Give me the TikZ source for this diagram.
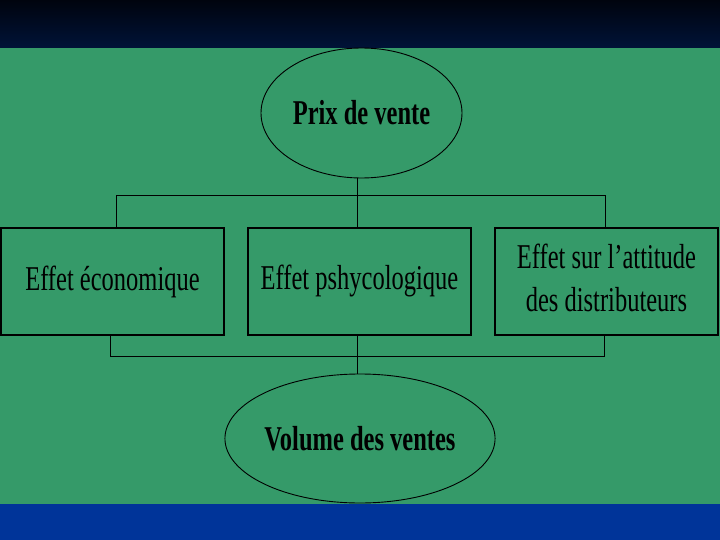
\documentclass[tikz,border=0pt]{standalone}
\usepackage{fontspec}
\setmainfont{Liberation Serif}
\usetikzlibrary{shapes.geometric}

\definecolor{fond}{RGB}{53,154,105}
\definecolor{nuitA}{RGB}{0,4,14}
\definecolor{nuitB}{RGB}{0,19,56}
\definecolor{bleubas}{RGB}{0,52,153}

\newcommand{\haut}[1]{\scalebox{1}[1.42]{#1}}

\tikzset{
	bulle/.style={draw, ellipse, line width=0.9pt, inner sep=0pt, font=\fontsize{24.5}{30}\selectfont\bfseries},
	boite/.style={draw, rectangle, line width=1.5pt, inner sep=0pt, minimum width=223pt, minimum height=107pt, font=\fontsize{24.5}{30}\selectfont},
	lien/.style={line width=0.9pt}
}

\begin{document}
\begin{tikzpicture}[x=1pt, y=-1pt]
	
	% background
	\useasboundingbox (0,0) rectangle (720,540);
	\fill[fond] (0,0) rectangle (720,540);
	\shade[top color=nuitA, bottom color=nuitB] (0,0) rectangle (720,48);
	\fill[bleubas] (0,504) rectangle (720,540);

	% ellipses
	\node[bulle, minimum width=201pt, minimum height=130pt] (prix) at (361.5,113) {\haut{Prix de vente}};
	\node[bulle, minimum width=264pt, minimum height=129pt] (volume) at (360,438.5) {\haut{Volume des ventes}};

	% boxes
	\node[boite] (eco) at (112.5,281.5) {\haut{Effet économique}};
	\node[boite] (psy) at (359.5,281.5) {\haut{Effet pshycologique}};
	\node[boite] (attitude) at (606.5,281.5) {\haut{\begin{tabular}{@{}c@{}}Effet sur l’attitude\\des distributeurs\end{tabular}}};

	% bus lines
	\coordinate (tronc) at (357,0);
	\coordinate (bushaut) at (0,195);
	\coordinate (busbas) at (0,356);

	% top
	\draw[lien] (prix.south -| tronc) -- (tronc |- psy.north);
	\draw[lien] ([xshift=3.5pt]eco.north) |- ([xshift=-1.5pt]attitude.north |- bushaut) -- ([xshift=-1.5pt]attitude.north);

	% bottom
	\draw[lien] (tronc |- psy.south) -- (tronc |- volume.north);
	\draw[lien] ([xshift=-2.5pt]eco.south) |- ([xshift=-2.5pt]attitude.south |- busbas) -- ([xshift=-2.5pt]attitude.south);

\end{tikzpicture}
\end{document}
